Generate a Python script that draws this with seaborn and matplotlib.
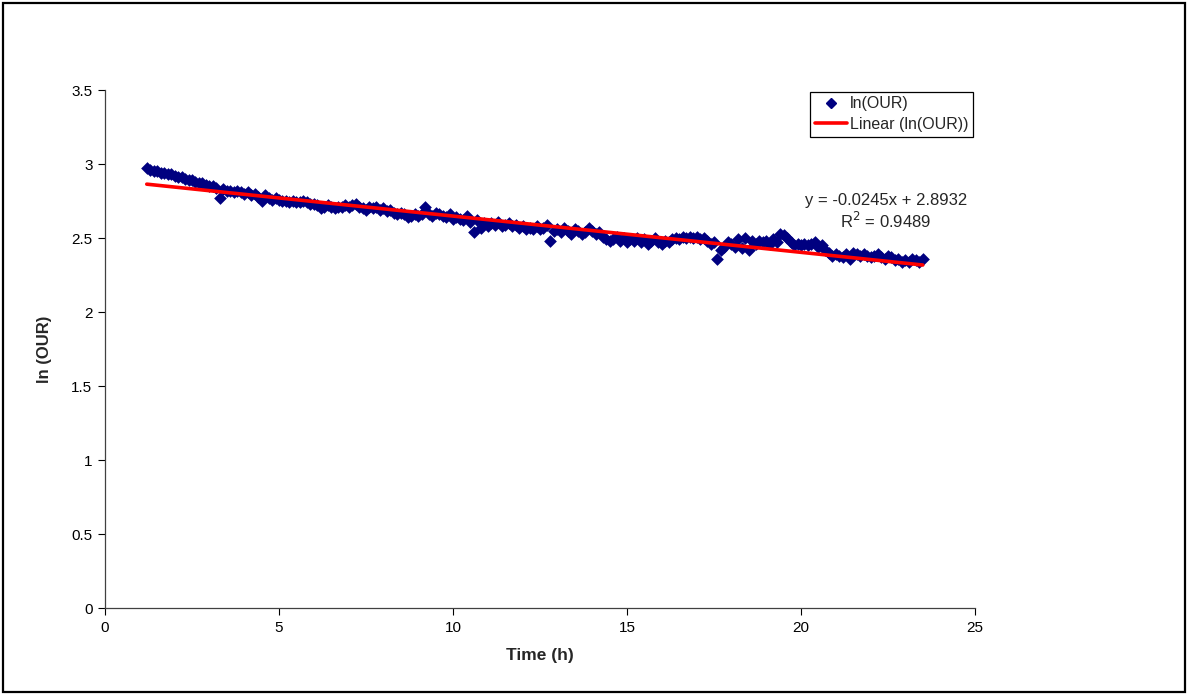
import numpy as np
import pandas as pd
import matplotlib
matplotlib.use("Agg")
import matplotlib.pyplot as plt
import seaborn as sns
from matplotlib.lines import Line2D
from matplotlib.patches import Rectangle

# ---- data ----
time_start = 1.2
time_step = 0.1
ln_our = [
    2.97, 2.96, 2.95, 2.95, 2.94, 2.94, 2.93, 2.93,
    2.92, 2.91, 2.91, 2.90, 2.89, 2.89, 2.88, 2.87, 2.87, 2.86,
    2.85, 2.85, 2.84, 2.77, 2.83, 2.82, 2.82, 2.81, 2.82, 2.81,
    2.80, 2.81, 2.79, 2.80, 2.78, 2.75, 2.79, 2.77, 2.76, 2.77,
    2.76, 2.75, 2.75, 2.74, 2.75, 2.74, 2.74, 2.75, 2.74, 2.73,
    2.73, 2.72, 2.70, 2.71, 2.72, 2.71, 2.70, 2.71, 2.71, 2.72,
    2.71, 2.72, 2.73, 2.71, 2.70, 2.69, 2.71, 2.70, 2.71, 2.69,
    2.70, 2.68, 2.69, 2.67, 2.66, 2.67, 2.66, 2.64, 2.65, 2.66,
    2.65, 2.66, 2.71, 2.66, 2.65, 2.67, 2.66, 2.65, 2.64, 2.66,
    2.63, 2.64, 2.63, 2.62, 2.65, 2.61, 2.54, 2.62, 2.57, 2.60,
    2.58, 2.60, 2.59, 2.61, 2.58, 2.59, 2.60, 2.58, 2.59, 2.57,
    2.58, 2.56, 2.57, 2.56, 2.58, 2.56, 2.57, 2.59, 2.48, 2.55,
    2.56, 2.54, 2.57, 2.55, 2.53, 2.56, 2.55, 2.53, 2.54, 2.57,
    2.55, 2.53, 2.54, 2.51, 2.49, 2.48, 2.49, 2.51, 2.48, 2.50,
    2.47, 2.49, 2.48, 2.50, 2.47, 2.49, 2.46, 2.48, 2.50, 2.47,
    2.46, 2.48, 2.47, 2.49, 2.50, 2.49, 2.51, 2.50, 2.51, 2.50,
    2.51, 2.49, 2.50, 2.48, 2.46, 2.47, 2.36, 2.42, 2.44, 2.47,
    2.46, 2.44, 2.49, 2.43, 2.50, 2.42, 2.48, 2.46, 2.48, 2.47,
    2.48, 2.46, 2.49, 2.47, 2.53, 2.52, 2.50, 2.47, 2.45, 2.46,
    2.45, 2.46, 2.45, 2.46, 2.47, 2.44, 2.45, 2.42, 2.40, 2.38,
    2.39, 2.38, 2.37, 2.39, 2.36, 2.40, 2.39, 2.38, 2.39, 2.38,
    2.37, 2.38, 2.39, 2.37, 2.36, 2.38, 2.37, 2.35, 2.36, 2.34,
    2.35, 2.34, 2.36, 2.35, 2.34, 2.36,
]
time_h = np.round(time_start + time_step * np.arange(len(ln_our)), 2)

trend_slope = -0.0245
trend_intercept = 2.8932
r_squared = 0.9489

x_ticks = [0, 5, 10, 15, 20, 25]
y_ticks = [0, 0.5, 1, 1.5, 2, 2.5, 3, 3.5]
x_label = "Time (h)"
y_label = "ln (OUR)"
series_label = "ln(OUR)"
trend_label = "Linear (ln(OUR))"

df = pd.DataFrame({"time": time_h, "ln_our": ln_our})
x_ends = np.array([time_h.min(), time_h.max()])
trend_df = pd.DataFrame({"time": x_ends, "fit": trend_intercept + trend_slope * x_ends})

# ---- plotting ----
sns.set_theme(style="white")
plt.rcParams["font.family"] = ["Liberation Sans", "DejaVu Sans"]

fig = plt.figure(figsize=(11.88, 6.95), dpi=100)
ax = fig.add_axes([105 / 1188, 87 / 695, 870 / 1188, 518 / 695])

navy = "#000080"
sns.scatterplot(data=df, x="time", y="ln_our", ax=ax, marker="D", s=42,
                color=navy, edgecolor=navy, linewidth=0, zorder=2)
sns.lineplot(data=trend_df, x="time", y="fit", ax=ax, color="#FF0000",
             linewidth=2.6, zorder=3)

ax.set_xlim(0, 25)
ax.set_ylim(0, 3.5)
ax.set_xticks(x_ticks)
ax.set_yticks(y_ticks)
ax.set_xticklabels([f"{v:g}" for v in x_ticks])
ax.set_yticklabels([f"{v:g}" for v in y_ticks])
ax.tick_params(axis="both", labelsize=11, colors="black", direction="out",
               length=5, width=0.8, pad=4, bottom=True, left=True)
for side in ["top", "right"]:
    ax.spines[side].set_visible(False)
for side in ["left", "bottom"]:
    ax.spines[side].set_color("#404040")
    ax.spines[side].set_linewidth(0.9)

ax.set_xlabel(x_label, fontsize=12.5, fontweight="bold", labelpad=10)
ax.set_ylabel(y_label, fontsize=12, fontweight="bold", labelpad=14)

handles = [
    Line2D([], [], marker="D", color=navy, linestyle="none", markersize=5.5),
    Line2D([], [], color="#FF0000", linewidth=2.6),
]
leg = ax.legend(handles, [series_label, trend_label], loc="upper right",
                bbox_to_anchor=(1.0, 1.0), fontsize=11.5, frameon=True,
                fancybox=False, edgecolor="black", framealpha=1,
                borderpad=0.3, handlelength=2.0, handletextpad=0.2,
                labelspacing=0.35, borderaxespad=0.1)
leg.get_frame().set_linewidth(0.9)

ax.text(886 / 1188, (695 - 200) / 695,
        f"y = {trend_slope}x + {trend_intercept}",
        transform=fig.transFigure, ha="center", va="center", fontsize=12)
ax.text(886 / 1188, (695 - 221) / 695,
        f"R$^2$ = {r_squared}",
        transform=fig.transFigure, ha="center", va="center", fontsize=12)

fig.patches.append(Rectangle((3 / 1188, 3 / 695), 1182 / 1188, 689 / 695,
                             transform=fig.transFigure, fill=False,
                             edgecolor="black", linewidth=1.6))

fig.savefig("out.png", dpi=100)
